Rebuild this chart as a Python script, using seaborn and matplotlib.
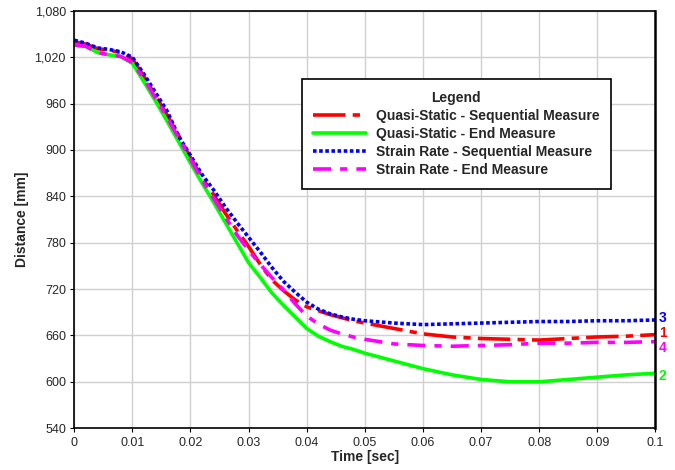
import pandas as pd
import seaborn as sns
import matplotlib.pyplot as plt

sns.set_style("ticks")
plt.rcParams["font.family"] = ["Liberation Sans", "DejaVu Sans"]

# time axis (sec)
time = [0, 0.002, 0.004, 0.006, 0.008, 0.010, 0.012, 0.014, 0.016, 0.018,
        0.020, 0.022, 0.024, 0.026, 0.028, 0.030, 0.032, 0.034, 0.036, 0.038,
        0.040, 0.042, 0.044, 0.046, 0.048, 0.050, 0.055, 0.060, 0.065, 0.070,
        0.075, 0.080, 0.085, 0.090, 0.095, 0.100]

# distance [mm] for each case
qs_seq = [1040, 1037, 1031, 1029, 1026, 1018, 995, 970, 945, 918,
          890, 864, 842, 818, 796, 775, 752, 732, 718, 706,
          697, 692, 687, 683, 679, 676, 669, 662, 658, 656,
          655, 654, 656, 658, 659, 661]
qs_end = [1036, 1034, 1026, 1023, 1021, 1012, 988, 963, 937, 910,
          883, 857, 832, 806, 780, 754, 735, 715, 699, 684,
          669, 659, 652, 646, 642, 637, 627, 617, 609, 603,
          600, 600, 603, 606, 609, 611]
sr_seq = [1042, 1038, 1032, 1030, 1027, 1020, 998, 974, 950, 917,
          893, 868, 848, 826, 806, 787, 768, 748, 730, 716,
          703, 694, 688, 684, 681, 679, 676, 674, 675, 676,
          677, 678, 678, 679, 679, 680]
sr_end = [1036, 1034, 1026, 1023, 1021, 1013, 992, 967, 942, 915,
          888, 861, 837, 813, 790, 770, 752, 735, 719, 701,
          685, 675, 667, 662, 658, 655, 649, 647, 646, 647,
          648, 650, 650, 651, 651, 652]

series_names = ["Quasi-Static - Sequential Measure",
                "Quasi-Static - End Measure",
                "Strain Rate - Sequential Measure",
                "Strain Rate - End Measure"]
series_values = [qs_seq, qs_end, sr_seq, sr_end]
end_labels = ["1", "2", "3", "4"]
end_label_y = [663, 608, 682, 644]

colors = ["#ff0000", "#00ff00", "#0000ff", "#ff00ff"]
styles = [(0, (9, 2, 2, 2)), "-", (0, (1, 0.7)), (0, (5, 2.5, 2, 2.5))]

fig, ax = plt.subplots(figsize=(6.75, 4.7), dpi=100)
fig.subplots_adjust(left=0.110, right=0.971, bottom=0.089, top=0.977)

for name, vals, c, ls in zip(series_names, series_values, colors, styles):
    df = pd.DataFrame({"time": time, "distance": vals})
    sns.lineplot(data=df, x="time", y="distance", ax=ax, color=c,
                 linestyle=ls, linewidth=2.6, label=name)

for lab, yv, c in zip(end_labels, end_label_y, colors):
    ax.text(0.1006, yv, lab, color=c, fontsize=10, fontweight="bold",
            va="center", ha="left", clip_on=False)

ax.set_xlim(0, 0.1)
ax.set_ylim(540, 1080)
ax.set_xticks([i / 100 for i in range(11)])
ax.set_xticklabels(["0"] + ["%.2f" % (i / 100) for i in range(1, 10)] + ["0.1"])
ax.set_yticks(range(540, 1081, 60))
ax.set_yticklabels(["{:,}".format(v) for v in range(540, 1081, 60)])
ax.tick_params(labelsize=9, length=3, width=0.8, color="black", pad=3)
ax.grid(True, color="#d0d0d0", linewidth=1)
for s in ax.spines.values():
    s.set_visible(True)
    s.set_color("black")
    s.set_linewidth(1.2)
ax.spines["right"].set_linewidth(1.8)

ax.set_xlabel("Time [sec]", fontsize=10, fontweight="bold", labelpad=1)
ax.set_ylabel("Distance [mm]", fontsize=10, fontweight="bold", labelpad=4)

leg = ax.legend(title="Legend", loc="upper right", bbox_to_anchor=(0.924, 0.837),
                borderaxespad=0, fancybox=False, framealpha=1, edgecolor="black",
                handlelength=3.8, prop={"weight": "bold", "size": 10},
                borderpad=0.85, labelspacing=0.3, handletextpad=0.7)
leg.get_title().set_fontweight("bold")
leg.get_title().set_fontsize(10)
leg.get_frame().set_linewidth(1.2)

plt.savefig("out.png", dpi=100)
